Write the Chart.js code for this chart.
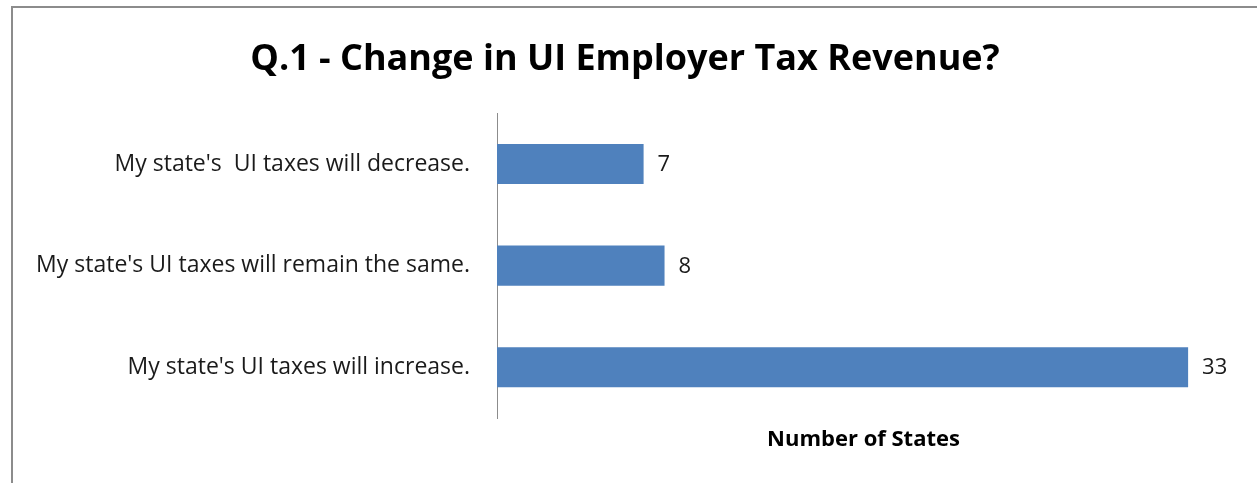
<!DOCTYPE html>
<html>
<head>
<meta charset="utf-8">
<script src="https://cdn.jsdelivr.net/npm/chart.js@4/dist/chart.umd.min.js"></script>
<style>
  html, body { margin: 0; padding: 0; background: #fff; }
  #wrap { width: 1257px; height: 483px; position: relative; }
</style>
</head>
<body>
<div id="wrap"><canvas id="chart"></canvas></div>
<script>
const categories = [
  "My state's  UI taxes will decrease.",
  "My state's UI taxes will remain the same.",
  "My state's UI taxes will increase."
];
const numberOfStates = [7, 8, 33];
const xMin = 0;
const xMax = 35;

const FONT = '"Open Sans", Lato, sans-serif';
const BAR_COLOR = '#4F81BD';

// frame of the chart box (left and top edges are the only ones on canvas)
const frame = {
  id: 'frame',
  beforeDraw(chart) {
    const ctx = chart.ctx;
    ctx.save();
    ctx.fillStyle = '#8c8c8c';
    ctx.fillRect(11, 6, 2, chart.height);
    ctx.fillRect(11, 6, chart.width, 2);
    ctx.restore();
  }
};

// value written just past the end of each bar
const barValues = {
  id: 'barValues',
  afterDatasetsDraw(chart) {
    const ctx = chart.ctx;
    const meta = chart.getDatasetMeta(0);
    ctx.save();
    ctx.font = '22px ' + FONT;
    ctx.fillStyle = '#1a1a1a';
    ctx.textAlign = 'left';
    ctx.textBaseline = 'middle';
    meta.data.forEach((bar, i) => {
      ctx.fillText(String(chart.data.datasets[0].data[i]), bar.x + 14, bar.y + 1);
    });
    ctx.restore();
  }
};

new Chart(document.getElementById('chart'), {
  type: 'bar',
  data: {
    labels: categories,
    datasets: [{
      data: numberOfStates,
      backgroundColor: BAR_COLOR,
      borderWidth: 0,
      categoryPercentage: 1,
      barPercentage: 0.395
    }]
  },
  options: {
    indexAxis: 'y',
    responsive: true,
    maintainAspectRatio: false,
    animation: false,
    layout: { padding: { left: 20, right: 27, top: 0, bottom: 0 } },
    plugins: {
      legend: { display: false },
      tooltip: { enabled: false },
      title: {
        display: true,
        text: 'Q.1 - Change in UI Employer Tax Revenue?',
        color: '#000',
        font: { family: FONT, size: 36, weight: 'bold' },
        padding: { top: 38, bottom: 32 }
      }
    },
    scales: {
      x: {
        min: xMin,
        max: xMax,
        grid: { display: false, drawTicks: false },
        border: { display: false },
        ticks: { display: false },
        title: {
          display: true,
          text: 'Number of States',
          color: '#000',
          font: { family: FONT, size: 22, weight: 'bold' },
          padding: { top: 0, bottom: 30 }
        },
        afterFit(scale) { scale.height = 65; }
      },
      y: {
        grid: { display: false, drawTicks: false },
        border: { display: true, color: '#8c8c8c', width: 1 },
        ticks: {
          color: '#1a1a1a',
          padding: 27,
          font: { family: FONT, size: 23 }
        },
        afterFit(scale) { scale.width = 477; }
      }
    }
  },
  plugins: [frame, barValues]
});
</script>
</body>
</html>
